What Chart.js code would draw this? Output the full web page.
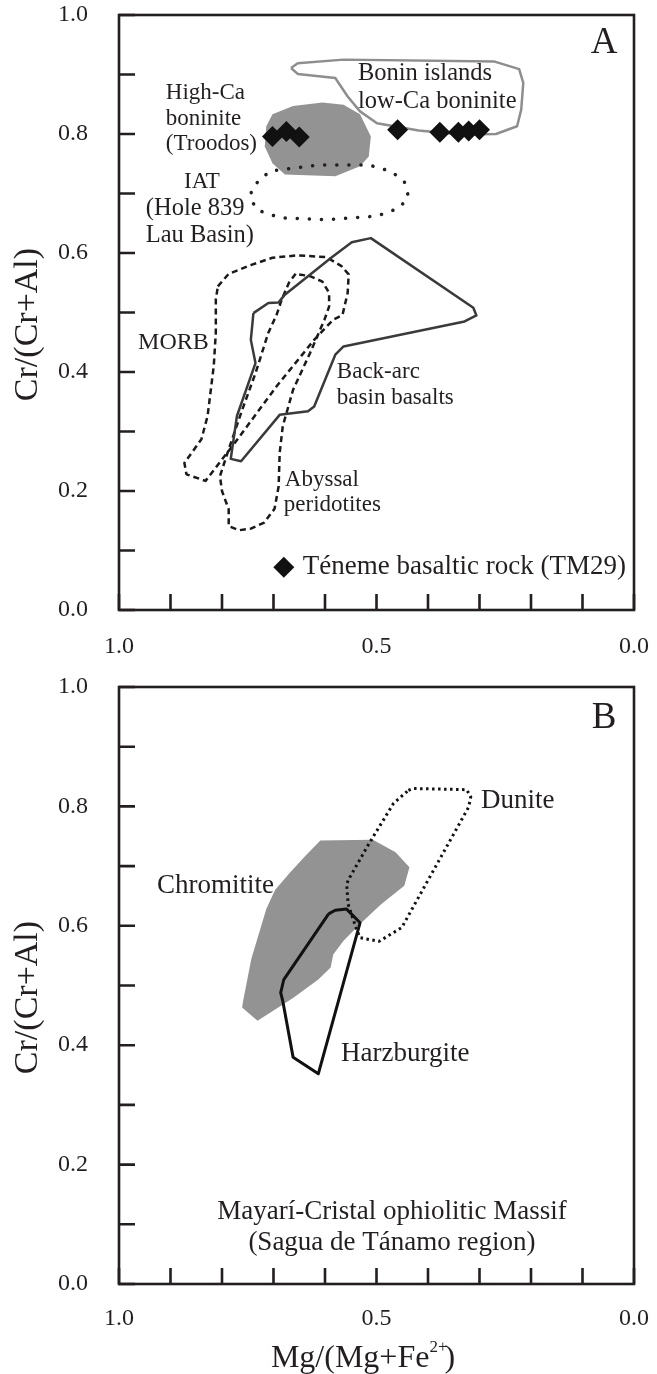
<!DOCTYPE html>
<html>
<head>
<meta charset="utf-8">
<title>Cr# vs Mg# spinel diagrams</title>
<script src="https://cdn.jsdelivr.net/npm/chart.js@4.4.1/dist/chart.umd.min.js"></script>
<style>
  html, body { margin: 0; padding: 0; background: #fff; }
  .panel { position: absolute; left: 0; width: 657px; }
  #panel-a { top: 0; height: 672px; }
  #panel-b { top: 672px; height: 702px; }
</style>
</head>
<body>
<div class="panel" id="panel-a"><canvas id="chart-a" width="657" height="672"></canvas></div>
<div class="panel" id="panel-b"><canvas id="chart-b" width="657" height="702"></canvas></div>
<script>
// ---- Panel A fields: x = Mg/(Mg+Fe2+), y = Cr/(Cr+Al) ----
const boninX = [0.666, 0.653, 0.564, 0.272, 0.223, 0.215, 0.219, 0.227, 0.268, 0.337, 0.418, 0.499, 0.532, 0.556, 0.580, 0.653];
const boninY = [0.911, 0.919, 0.925, 0.922, 0.909, 0.886, 0.841, 0.813, 0.800, 0.799, 0.806, 0.818, 0.838, 0.863, 0.894, 0.901];

const troodosX = [0.702, 0.662, 0.605, 0.564, 0.532, 0.511, 0.515, 0.532, 0.580, 0.678, 0.702, 0.717, 0.714];
const troodosY = [0.833, 0.847, 0.853, 0.849, 0.833, 0.796, 0.762, 0.746, 0.729, 0.732, 0.751, 0.779, 0.813];

const iatX = [0.694, 0.613, 0.515, 0.471, 0.446, 0.438, 0.455, 0.499, 0.597, 0.686, 0.731, 0.744, 0.743, 0.722];
const iatY = [0.739, 0.748, 0.748, 0.737, 0.720, 0.695, 0.676, 0.662, 0.656, 0.659, 0.672, 0.690, 0.706, 0.729];

const backArcX = [0.739, 0.710, 0.690, 0.678, 0.588, 0.548, 0.511, 0.312, 0.306, 0.329, 0.564, 0.580, 0.621, 0.633, 0.688, 0.763, 0.783, 0.771, 0.735, 0.744];
const backArcY = [0.499, 0.516, 0.517, 0.530, 0.592, 0.618, 0.625, 0.508, 0.495, 0.485, 0.443, 0.429, 0.342, 0.334, 0.328, 0.250, 0.254, 0.326, 0.415, 0.454];

const morbX = [0.808, 0.787, 0.743, 0.702, 0.653, 0.597, 0.568, 0.554, 0.556, 0.566, 0.584, 0.621, 0.694, 0.775, 0.832, 0.869, 0.873, 0.840, 0.828, 0.816, 0.812, 0.812];
const morbY = [0.544, 0.565, 0.580, 0.592, 0.596, 0.593, 0.578, 0.564, 0.533, 0.496, 0.488, 0.454, 0.376, 0.281, 0.217, 0.228, 0.247, 0.287, 0.326, 0.410, 0.466, 0.522];

const abyssalX = [0.657, 0.670, 0.684, 0.694, 0.710, 0.735, 0.763, 0.787, 0.804, 0.800, 0.787, 0.787, 0.767, 0.743, 0.718, 0.698, 0.690, 0.688, 0.682, 0.662, 0.629, 0.601, 0.592, 0.592, 0.605, 0.629];
const abyssalY = [0.565, 0.550, 0.522, 0.496, 0.466, 0.398, 0.331, 0.270, 0.225, 0.200, 0.169, 0.141, 0.134, 0.137, 0.147, 0.170, 0.208, 0.264, 0.309, 0.370, 0.432, 0.488, 0.510, 0.533, 0.552, 0.561];

// Téneme basaltic rock (TM29) spinels
const tm29X = [0.702, 0.675, 0.650, 0.459, 0.377, 0.341, 0.321, 0.300];
const tm29Y = [0.796, 0.804, 0.795, 0.807, 0.803, 0.803, 0.805, 0.807];

// ---- Panel B fields ----
const chromX = [0.609, 0.507, 0.463, 0.436, 0.446, 0.491, 0.532, 0.564, 0.584, 0.589, 0.613, 0.662, 0.731, 0.761, 0.759, 0.743, 0.714, 0.697, 0.670, 0.637];
const chromY = [0.743, 0.744, 0.723, 0.698, 0.667, 0.636, 0.603, 0.575, 0.552, 0.530, 0.510, 0.479, 0.441, 0.463, 0.474, 0.545, 0.628, 0.660, 0.687, 0.718];

const harzX = [0.593, 0.580, 0.558, 0.532, 0.613, 0.662, 0.682, 0.686, 0.680];
const harzY = [0.620, 0.626, 0.628, 0.605, 0.352, 0.380, 0.474, 0.488, 0.510];

const duniteX = [0.438, 0.430, 0.325, 0.317, 0.321, 0.451, 0.495, 0.532, 0.540, 0.555, 0.558, 0.552, 0.515, 0.467];
const duniteY = [0.827, 0.830, 0.828, 0.816, 0.799, 0.597, 0.574, 0.580, 0.597, 0.636, 0.670, 0.681, 0.737, 0.805];

// tick labels
const xTickLabels = ['1.0', '0.5', '0.0'];
const yTickLabels = ['0.0', '0.2', '0.4', '0.6', '0.8', '1.0'];

const INK = '#231f20';
const SERIF = "'Liberation Serif', 'Times New Roman', serif";
const TICK_LEN = 16;

// text placed in data units (left/center anchored, vertically centred)
const labelsA = [
  { text: 'High-Ca', x: 0.909, y: 0.869 },
  { text: 'boninite', x: 0.909, y: 0.825 },
  { text: '(Troodos)', x: 0.909, y: 0.783 },
  { text: 'Bonin islands', x: 0.536, y: 0.901, size: 24.5 },
  { text: 'low-Ca boninite', x: 0.536, y: 0.855, size: 24.5 },
  { text: 'IAT', x: 0.839, y: 0.719, align: 'center' },
  { text: '(Hole 839', x: 0.948, y: 0.674, size: 24.5 },
  { text: 'Lau Basin)', x: 0.948, y: 0.629, size: 24.5 },
  { text: 'MORB', x: 0.963, y: 0.449, size: 24 },
  { text: 'Back-arc', x: 0.577, y: 0.400 },
  { text: 'basin basalts', x: 0.577, y: 0.356 },
  { text: 'Abyssal', x: 0.678, y: 0.218 },
  { text: 'peridotites', x: 0.680, y: 0.176 },
  { text: 'Téneme basaltic rock (TM29)', x: 0.643, y: 0.072, size: 27 },
  { text: 'A', x: 0.058, y: 0.953, align: 'center', size: 37 }
];

const labelsB = [
  { text: 'Dunite', x: 0.297, y: 0.809, size: 27 },
  { text: 'Chromitite', x: 0.926, y: 0.667, size: 27 },
  { text: 'Harzburgite', x: 0.569, y: 0.385, size: 27 },
  { text: 'Mayarí-Cristal ophiolitic Massif', x: 0.470, y: 0.121, align: 'center', size: 27 },
  { text: '(Sagua de Tánamo region)', x: 0.470, y: 0.069, align: 'center', size: 27 },
  { text: 'B', x: 0.058, y: 0.948, align: 'center', size: 37 }
];

function loop(xs, ys) {
  const pts = xs.map((x, i) => ({ x, y: ys[i] }));
  pts.push({ ...pts[0] });
  return pts;
}

function outline(data, color, width, extra = {}) {
  return Object.assign({
    data, borderColor: color, borderWidth: width, fill: false,
    pointRadius: 0, tension: 0, borderJoinStyle: 'round'
  }, extra);
}

function patch(data, color) {
  return { data, backgroundColor: color, borderWidth: 0, fill: 'shape', pointRadius: 0, tension: 0 };
}

function drawDiamond(ctx, cx, cy, r) {
  ctx.beginPath();
  ctx.moveTo(cx, cy - r);
  ctx.lineTo(cx + r, cy);
  ctx.lineTo(cx, cy + r);
  ctx.lineTo(cx - r, cy);
  ctx.closePath();
  ctx.fill();
}

// frame, inward ticks, in-plot text, axis titles
const decorPlugin = {
  id: 'decor',
  afterDatasetsDraw(chart, args, opts) {
    const { ctx, chartArea: a, scales: { x, y } } = chart;
    ctx.save();
    ctx.strokeStyle = INK;
    ctx.lineWidth = 2.6;
    ctx.strokeRect(a.left, a.top, a.right - a.left, a.bottom - a.top);
    ctx.beginPath();
    x.ticks.forEach(t => {
      const px = x.getPixelForValue(t.value);
      ctx.moveTo(px, a.bottom);
      ctx.lineTo(px, a.bottom - TICK_LEN);
    });
    y.ticks.forEach(t => {
      const py = y.getPixelForValue(t.value);
      ctx.moveTo(a.left, py);
      ctx.lineTo(a.left + TICK_LEN, py);
    });
    ctx.stroke();

    ctx.fillStyle = INK;
    ctx.textBaseline = 'middle';
    opts.labels.forEach(l => {
      ctx.font = `${l.size || 23}px ${SERIF}`;
      ctx.textAlign = l.align || 'left';
      ctx.fillText(l.text, x.getPixelForValue(l.x), y.getPixelForValue(l.y));
    });

    if (opts.legendMarker) {
      const m = opts.legendMarker;
      ctx.fillStyle = '#111';
      drawDiamond(ctx, x.getPixelForValue(m.x), y.getPixelForValue(m.y), 10.5);
    }

    // y title
    ctx.fillStyle = INK;
    ctx.font = `34px ${SERIF}`;
    ctx.textAlign = 'center';
    ctx.translate(a.left - 91, (a.top + a.bottom) / 2 + 12);
    ctx.rotate(-Math.PI / 2);
    ctx.fillText('Cr/(Cr+Al)', 0, 0);
    ctx.setTransform(1, 0, 0, 1, 0, 0);

    if (opts.xTitle) {
      const base = a.bottom + 83;
      const main = 'Mg/(Mg+Fe';
      ctx.textBaseline = 'alphabetic';
      ctx.textAlign = 'left';
      ctx.font = `32px ${SERIF}`;
      const wMain = ctx.measureText(main).width;
      const wClose = ctx.measureText(')').width;
      ctx.font = `17px ${SERIF}`;
      const wSup = ctx.measureText('2+').width;
      const total = wMain + wSup + wClose - 3;
      let px = 363 - total / 2;
      ctx.font = `32px ${SERIF}`;
      ctx.fillText(main, px, base);
      px += wMain;
      ctx.font = `17px ${SERIF}`;
      ctx.fillText('2+', px, base - 15);
      px += wSup - 3;
      ctx.font = `32px ${SERIF}`;
      ctx.fillText(')', px, base);
    }
    ctx.restore();
  }
};

function makeChart(id, datasets, xHeight, xPad, decor) {
  return new Chart(document.getElementById(id), {
    type: 'line',
    data: { datasets },
    plugins: [decorPlugin],
    options: {
      responsive: false,
      animation: false,
      events: [],
      layout: { padding: { left: 0, right: 23, top: 15, bottom: 0 } },
      plugins: { legend: { display: false }, tooltip: { enabled: false }, decor },
      scales: {
        x: {
          type: 'linear', min: 0, max: 1, reverse: true,
          grid: { display: false, drawTicks: false }, border: { display: false },
          afterFit: s => { s.height = xHeight; s.paddingLeft = 0; s.paddingRight = 0; },
          ticks: {
            stepSize: 0.1, autoSkip: false, maxRotation: 0, padding: xPad, color: INK,
            font: { family: SERIF, size: 24 },
            callback: v => (Math.round(v * 10) % 5 === 0 ? xTickLabels[Math.round((1 - v) * 2)] : '')
          }
        },
        y: {
          type: 'linear', min: 0, max: 1,
          grid: { display: false, drawTicks: false }, border: { display: false },
          afterFit: s => { s.width = 119; s.paddingTop = 0; s.paddingBottom = 0; },
          ticks: {
            stepSize: 0.1, autoSkip: false, padding: 31, color: INK,
            font: { family: SERIF, size: 24 },
            callback: v => (Math.round(v * 10) % 2 === 0 ? yTickLabels[Math.round(v * 5)] : '')
          }
        }
      }
    }
  });
}

// earlier datasets draw on top
makeChart('chart-a', [
  { data: loop(tm29X, tm29Y).slice(0, -1), showLine: false, pointStyle: 'rectRot',
    pointRadius: 10.5, pointBackgroundColor: '#111', pointBorderWidth: 0 },
  outline(loop(boninX, boninY), '#8e8e8e', 2.5),
  outline(loop(iatX, iatY), INK, 3.5, { borderDash: [0.1, 12], borderCapStyle: 'round' }),
  outline(loop(backArcX, backArcY), '#3a3a3a', 2.5),
  outline(loop(morbX, morbY), '#1a1a1a', 2.5, { borderDash: [6, 4] }),
  outline(loop(abyssalX, abyssalY), '#1a1a1a', 2.5, { borderDash: [6, 4] }),
  patch(loop(troodosX, troodosY), '#939393')
], 62, 22, { labels: labelsA, legendMarker: { x: 0.680, y: 0.072 } });

makeChart('chart-b', [
  outline(loop(harzX, harzY), '#111', 3),
  outline(loop(duniteX, duniteY), '#111', 3, { borderDash: [2.5, 3.5] }),
  patch(loop(chromX, chromY), '#939393')
], 90, 20, { labels: labelsB, xTitle: true });
</script>
</body>
</html>
